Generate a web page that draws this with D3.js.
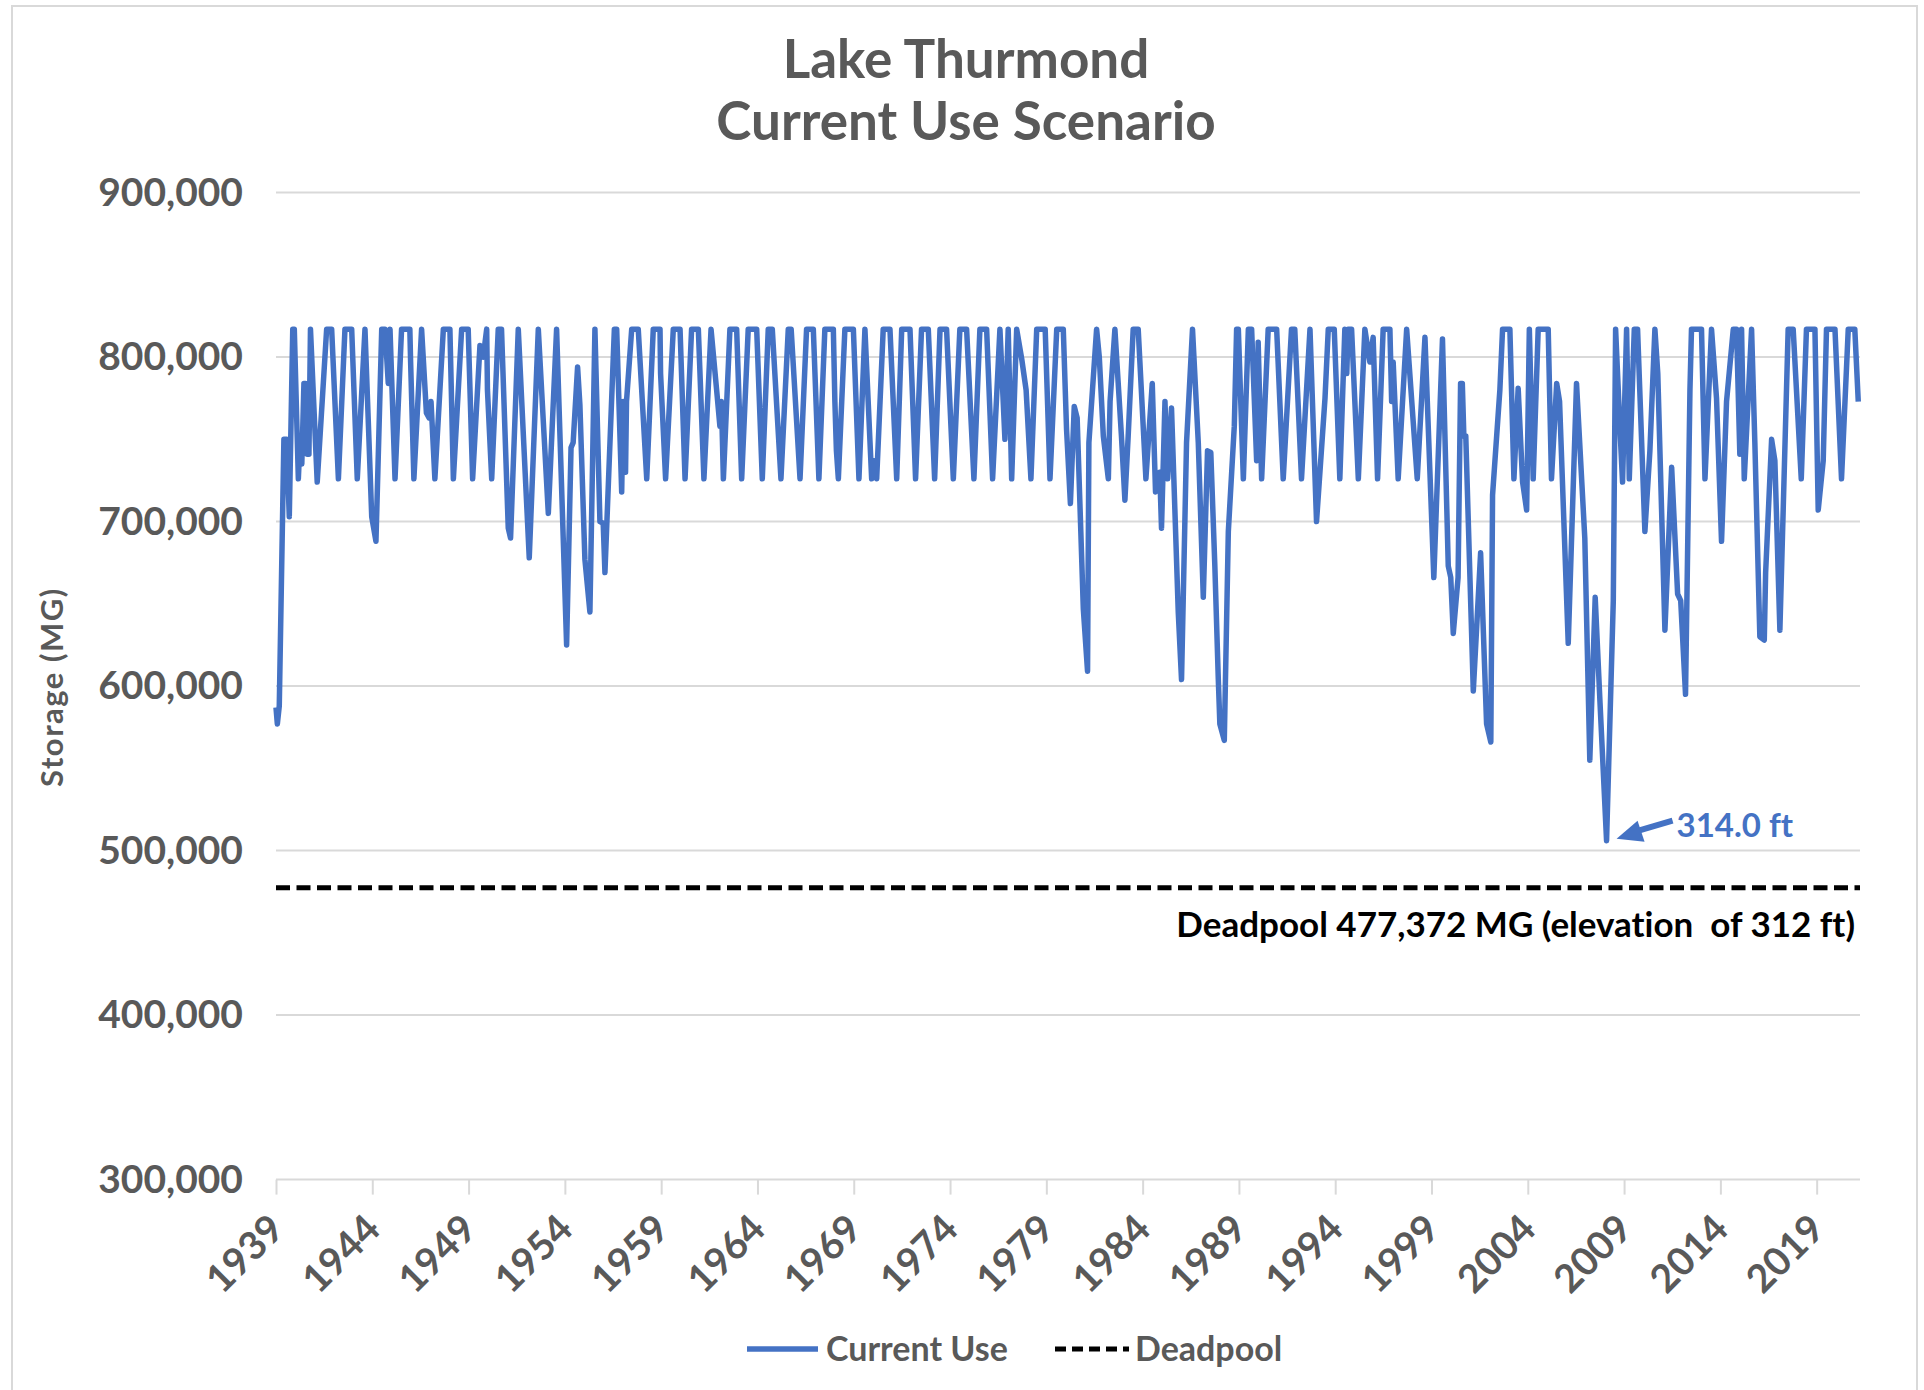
<!DOCTYPE html>
<html>
<head>
<meta charset="utf-8">
<script src="https://cdn.jsdelivr.net/npm/d3@7"></script>
<style>
  body { margin: 0; background: #fff; }
  text { font-family: Lato, "Open Sans", sans-serif; font-weight: 700; font-variant-ligatures: none; }
</style>
</head>
<body>
<div id="chart"></div>
<script>
// Lake Thurmond storage, thousand MG.
// Each point is [decimal year, storage].
const storage1939s = [
  [1939.00, 587], [1939.07, 577], [1939.17, 588], [1939.41, 750], [1939.55, 750],
  [1939.69, 703], [1939.87, 817], [1939.95, 817], [1940.16, 726], [1940.26, 752],
  [1940.34, 735], [1940.45, 784], [1940.53, 784], [1940.62, 741], [1940.71, 741],
  [1940.79, 817], [1941.14, 724], [1941.63, 817], [1941.89, 817], [1942.24, 726],
  [1942.58, 817], [1942.93, 817], [1943.22, 726], [1943.62, 817], [1943.97, 703],
  [1944.19, 688], [1944.49, 817], [1944.66, 817], [1944.83, 784], [1944.92, 817],
  [1945.18, 726], [1945.52, 817], [1945.95, 817], [1945.99, 797], [1946.16, 726],
  [1946.56, 817], [1946.81, 766], [1946.95, 763], [1947.05, 773], [1947.25, 726],
  [1947.69, 817], [1948.03, 817], [1948.21, 726], [1948.64, 817], [1948.98, 817],
  [1949.21, 726], [1949.59, 807], [1949.76, 800], [1949.94, 817], [1949.98, 780]
];
const storage1950s = [
  [1950.20, 726], [1950.54, 817], [1950.71, 817], [1951.06, 696], [1951.18, 690],
  [1951.58, 817], [1952.15, 678], [1952.62, 817], [1953.14, 705], [1953.57, 817],
  [1954.09, 625], [1954.32, 745], [1954.43, 748], [1954.66, 794], [1954.78, 771],
  [1955.04, 677], [1955.30, 645], [1955.56, 817], [1955.82, 700], [1955.99, 699],
  [1956.08, 669], [1956.57, 817], [1956.69, 817], [1956.95, 718], [1957.03, 773],
  [1957.15, 730], [1957.20, 773], [1957.47, 817], [1957.81, 817], [1958.25, 726],
  [1958.59, 817], [1958.94, 817], [1958.97, 790], [1959.23, 726], [1959.63, 817],
  [1959.98, 817]
];
const storage1960s = [
  [1960.24, 726], [1960.58, 817], [1960.93, 817], [1961.22, 726], [1961.59, 817],
  [1961.88, 780], [1962.05, 758], [1962.13, 773], [1962.23, 726], [1962.57, 817],
  [1962.92, 817], [1963.18, 726], [1963.52, 817], [1963.96, 817], [1964.25, 726],
  [1964.56, 817], [1964.77, 817], [1965.22, 726], [1965.60, 817], [1965.75, 817],
  [1966.21, 726], [1966.55, 817], [1966.90, 817], [1967.19, 726], [1967.50, 817],
  [1967.94, 817], [1968.02, 773], [1968.10, 743], [1968.20, 726], [1968.54, 817],
  [1968.98, 817], [1969.27, 726], [1969.58, 817], [1969.93, 726]
];
const storage1970s = [
  [1970.05, 737], [1970.19, 726], [1970.53, 817], [1970.88, 817], [1971.23, 726],
  [1971.49, 817], [1971.92, 817], [1972.21, 726], [1972.52, 817], [1972.87, 817],
  [1973.20, 726], [1973.48, 817], [1973.82, 817], [1974.17, 726], [1974.51, 817],
  [1974.86, 817], [1975.24, 726], [1975.55, 817], [1975.90, 817], [1976.21, 726],
  [1976.59, 817], [1976.85, 750], [1977.02, 817], [1977.20, 726], [1977.46, 817],
  [1977.72, 799], [1977.95, 780], [1978.20, 726], [1978.50, 817], [1978.94, 817],
  [1979.19, 726], [1979.54, 817], [1979.88, 817]
];
const storage1980s = [
  [1980.05, 756], [1980.25, 711], [1980.45, 770], [1980.60, 763], [1980.92, 647],
  [1981.14, 609], [1981.21, 748], [1981.61, 817], [1981.75, 800], [1981.96, 752],
  [1982.22, 726], [1982.31, 773], [1982.56, 817], [1982.90, 752], [1983.08, 713],
  [1983.25, 752], [1983.51, 817], [1983.77, 817], [1984.17, 726], [1984.50, 784],
  [1984.67, 718], [1984.89, 730], [1984.98, 696], [1985.16, 773], [1985.30, 726],
  [1985.50, 769], [1985.85, 645], [1986.02, 604], [1986.28, 748], [1986.59, 817],
  [1986.89, 748], [1987.15, 654], [1987.37, 743], [1987.54, 742], [1987.75, 673],
  [1987.93, 604], [1988.01, 577], [1988.24, 567], [1988.45, 694], [1988.76, 758],
  [1988.88, 817], [1988.97, 817], [1989.23, 726], [1989.49, 817], [1989.66, 817],
  [1989.92, 737]
];
const storage1990s = [
  [1990.00, 809], [1990.18, 726], [1990.52, 817], [1990.96, 817], [1991.30, 726],
  [1991.73, 817], [1991.90, 817], [1992.25, 726], [1992.69, 817], [1993.03, 700],
  [1993.47, 775], [1993.64, 817], [1993.95, 817], [1994.24, 726], [1994.50, 817],
  [1994.60, 790], [1994.67, 817], [1994.85, 817], [1995.20, 726], [1995.54, 817],
  [1995.80, 797], [1995.97, 812], [1996.20, 726], [1996.49, 817], [1996.84, 817],
  [1996.93, 773], [1997.01, 797], [1997.27, 726], [1997.71, 817], [1998.26, 726],
  [1998.66, 812], [1999.12, 666], [1999.57, 811], [1999.87, 673]
];
const storage2000s = [
  [2000.00, 666], [2000.13, 632], [2000.38, 666], [2000.51, 784], [2000.60, 784],
  [2000.68, 752], [2000.78, 752], [2001.17, 597], [2001.55, 681], [2001.86, 577],
  [2002.08, 566], [2002.17, 716], [2002.55, 780], [2002.69, 817], [2003.07, 817],
  [2003.28, 726], [2003.50, 781], [2003.73, 724], [2003.94, 707], [2004.08, 817],
  [2004.28, 726], [2004.54, 817], [2005.06, 817], [2005.23, 726], [2005.50, 784],
  [2005.65, 773], [2006.10, 626], [2006.53, 784], [2006.96, 690], [2007.22, 555],
  [2007.50, 654], [2007.75, 590], [2008.09, 506], [2008.44, 652], [2008.56, 817],
  [2008.78, 758], [2008.92, 724], [2009.13, 817], [2009.27, 726], [2009.53, 817],
  [2009.70, 817]
];
const storage2010s = [
  [2010.08, 694], [2010.34, 743], [2010.60, 817], [2010.75, 790], [2011.12, 634],
  [2011.47, 733], [2011.78, 656], [2011.94, 652], [2012.19, 595], [2012.42, 780],
  [2012.50, 817], [2013.02, 817], [2013.20, 726], [2013.54, 817], [2013.80, 775],
  [2014.06, 688], [2014.32, 773], [2014.67, 817], [2014.84, 817], [2015.01, 741],
  [2015.10, 817], [2015.24, 726], [2015.62, 817], [2015.79, 748], [2016.05, 630],
  [2016.28, 628], [2016.35, 669], [2016.66, 750], [2016.83, 737], [2017.09, 634],
  [2017.52, 817], [2017.78, 817], [2018.20, 726], [2018.47, 817], [2018.91, 817],
  [2019.08, 707], [2019.34, 737], [2019.51, 817], [2019.95, 817]
];
const storage2020s = [
  [2020.29, 726], [2020.64, 817], [2020.98, 817], [2021.16, 773]
];

const deadpoolStorage = 477.372;   // thousand MG
const yTicks = [300, 400, 500, 600, 700, 800, 900];
const xTickYears = [1939, 1944, 1949, 1954, 1959, 1964, 1969, 1974, 1979,
                    1984, 1989, 1994, 1999, 2004, 2009, 2014, 2019];
const titleLines = ["Lake Thurmond", "Current Use Scenario"];
const seriesNames = ["Current Use", "Deadpool"];
const minLabel = "314.0 ft";
const deadpoolLabel = "Deadpool 477,372 MG (elevation  of 312 ft)";

const width = 1924, height = 1390;
const plot = {left: 276, right: 1860, top: 192.6, bottom: 1179.6};
const blue = "#4472C4", grey = "#595959", gridGrey = "#d9d9d9";

const data = [].concat(storage1939s, storage1950s, storage1960s, storage1970s,
    storage1980s, storage1990s, storage2000s, storage2010s, storage2020s)
    .map(d => ({t: d[0], v: d[1]}));

let x = d3.scaleLinear().domain([1939, 2021.25]).range([plot.left, plot.right]);
let y = d3.scaleLinear().domain([300, 900]).range([plot.bottom, plot.top]);

let svg = d3.select("#chart").append("svg")
    .attr("width", width)
    .attr("height", height);

// chart area border
svg.append("rect")
    .attr("x", 12).attr("y", 6)
    .attr("width", 1905).attr("height", 1420)
    .attr("fill", "#fff")
    .attr("stroke", gridGrey)
    .attr("stroke-width", 2);

// title
svg.append("g").selectAll("text")
    .data(titleLines)
    .enter().append("text")
    .attr("x", 966)
    .attr("y", (d, i) => 78 + i * 62)
    .attr("text-anchor", "middle")
    .attr("font-size", 53)
    .attr("fill", grey)
    .text(d => d);

// gridlines
svg.append("g").selectAll("line")
    .data(yTicks)
    .enter().append("line")
    .attr("x1", plot.left).attr("x2", plot.right)
    .attr("y1", d => y(d)).attr("y2", d => y(d))
    .attr("stroke", gridGrey)
    .attr("stroke-width", 2);

// y axis labels
let yAxis = d3.axisLeft(y)
    .tickValues(yTicks)
    .tickSize(0)
    .tickPadding(33)
    .tickFormat(d => d3.format(",")(d * 1000));

let yg = svg.append("g")
    .attr("transform", "translate(" + plot.left + ",0)")
    .call(yAxis);
yg.select(".domain").remove();
yg.selectAll("text")
    .attr("font-size", 39)
    .attr("font-family", "Lato, sans-serif")
    .attr("font-weight", 800)
    .attr("fill", grey);

// x axis: ticks below the 300,000 line, labels turned 45 degrees
let xAxis = d3.axisBottom(x)
    .tickValues(xTickYears)
    .tickSize(15)
    .tickFormat(d3.format("d"));

let xg = svg.append("g")
    .attr("transform", "translate(0," + plot.bottom + ")")
    .call(xAxis);
xg.select(".domain").remove();
xg.selectAll(".tick line").attr("stroke", gridGrey).attr("stroke-width", 2);
xg.selectAll("text")
    .attr("x", 0).attr("y", 0)
    .attr("dy", "0.35em")
    .attr("transform", "translate(0,42) rotate(-45)")
    .attr("text-anchor", "end")
    .attr("font-size", 39)
    .attr("font-family", "Lato, sans-serif")
    .attr("font-weight", 800)
    .attr("fill", grey);

// y axis title
svg.append("text")
    .attr("transform", "translate(63," + ((plot.top + plot.bottom) / 2 + 1) + ") rotate(-90)")
    .attr("text-anchor", "middle")
    .attr("font-size", 31)
    .attr("letter-spacing", 1.5)
    .attr("fill", grey)
    .text("Storage (MG)");

// deadpool line and its label
svg.append("line")
    .attr("x1", plot.left).attr("x2", plot.right)
    .attr("y1", y(deadpoolStorage)).attr("y2", y(deadpoolStorage))
    .attr("stroke", "#000")
    .attr("stroke-width", 5)
    .attr("stroke-dasharray", "14,6.5");

svg.append("text")
    .attr("x", plot.right - 5)
    .attr("y", y(deadpoolStorage) + 49)
    .attr("text-anchor", "end")
    .attr("font-size", 35)
    .attr("fill", "#000")
    .style("white-space", "pre")
    .text(deadpoolLabel);

// storage series
let line = d3.line()
    .x(d => x(d.t))
    .y(d => y(d.v));

svg.append("path")
    .datum(data)
    .attr("fill", "none")
    .attr("stroke", blue)
    .attr("stroke-width", 5.5)
    .attr("stroke-linejoin", "round")
    .attr("d", line);

// minimum annotation, placed off the lowest point
let low = d3.least(data, d => d.v);
let lx = x(low.t), ly = y(low.v);
svg.append("line")
    .attr("x1", lx + 66).attr("y1", ly - 20)
    .attr("x2", lx + 32).attr("y2", ly - 10)
    .attr("stroke", blue)
    .attr("stroke-width", 6);
svg.append("path")
    .attr("d", d3.line()([[lx + 10, ly - 2], [lx + 38, ly + 1], [lx + 31, ly - 20]]) + "Z")
    .attr("fill", blue);
svg.append("text")
    .attr("x", lx + 70)
    .attr("y", ly - 4)
    .attr("font-size", 33)
    .attr("font-weight", 800)
    .attr("fill", blue)
    .text(minLabel);

// legend
let legend = svg.append("g").attr("transform", "translate(0,1349)");
legend.append("line")
    .attr("x1", 747).attr("x2", 818)
    .attr("stroke", blue).attr("stroke-width", 5.5);
legend.append("text")
    .attr("x", 826).attr("dy", "0.35em")
    .attr("font-size", 34).attr("fill", grey)
    .text(seriesNames[0]);
legend.append("line")
    .attr("x1", 1055).attr("x2", 1129)
    .attr("stroke", "#000").attr("stroke-width", 5)
    .attr("stroke-dasharray", "11,6");
legend.append("text")
    .attr("x", 1135).attr("dy", "0.35em")
    .attr("font-size", 34).attr("fill", grey)
    .text(seriesNames[1]);
</script>
</body>
</html>
